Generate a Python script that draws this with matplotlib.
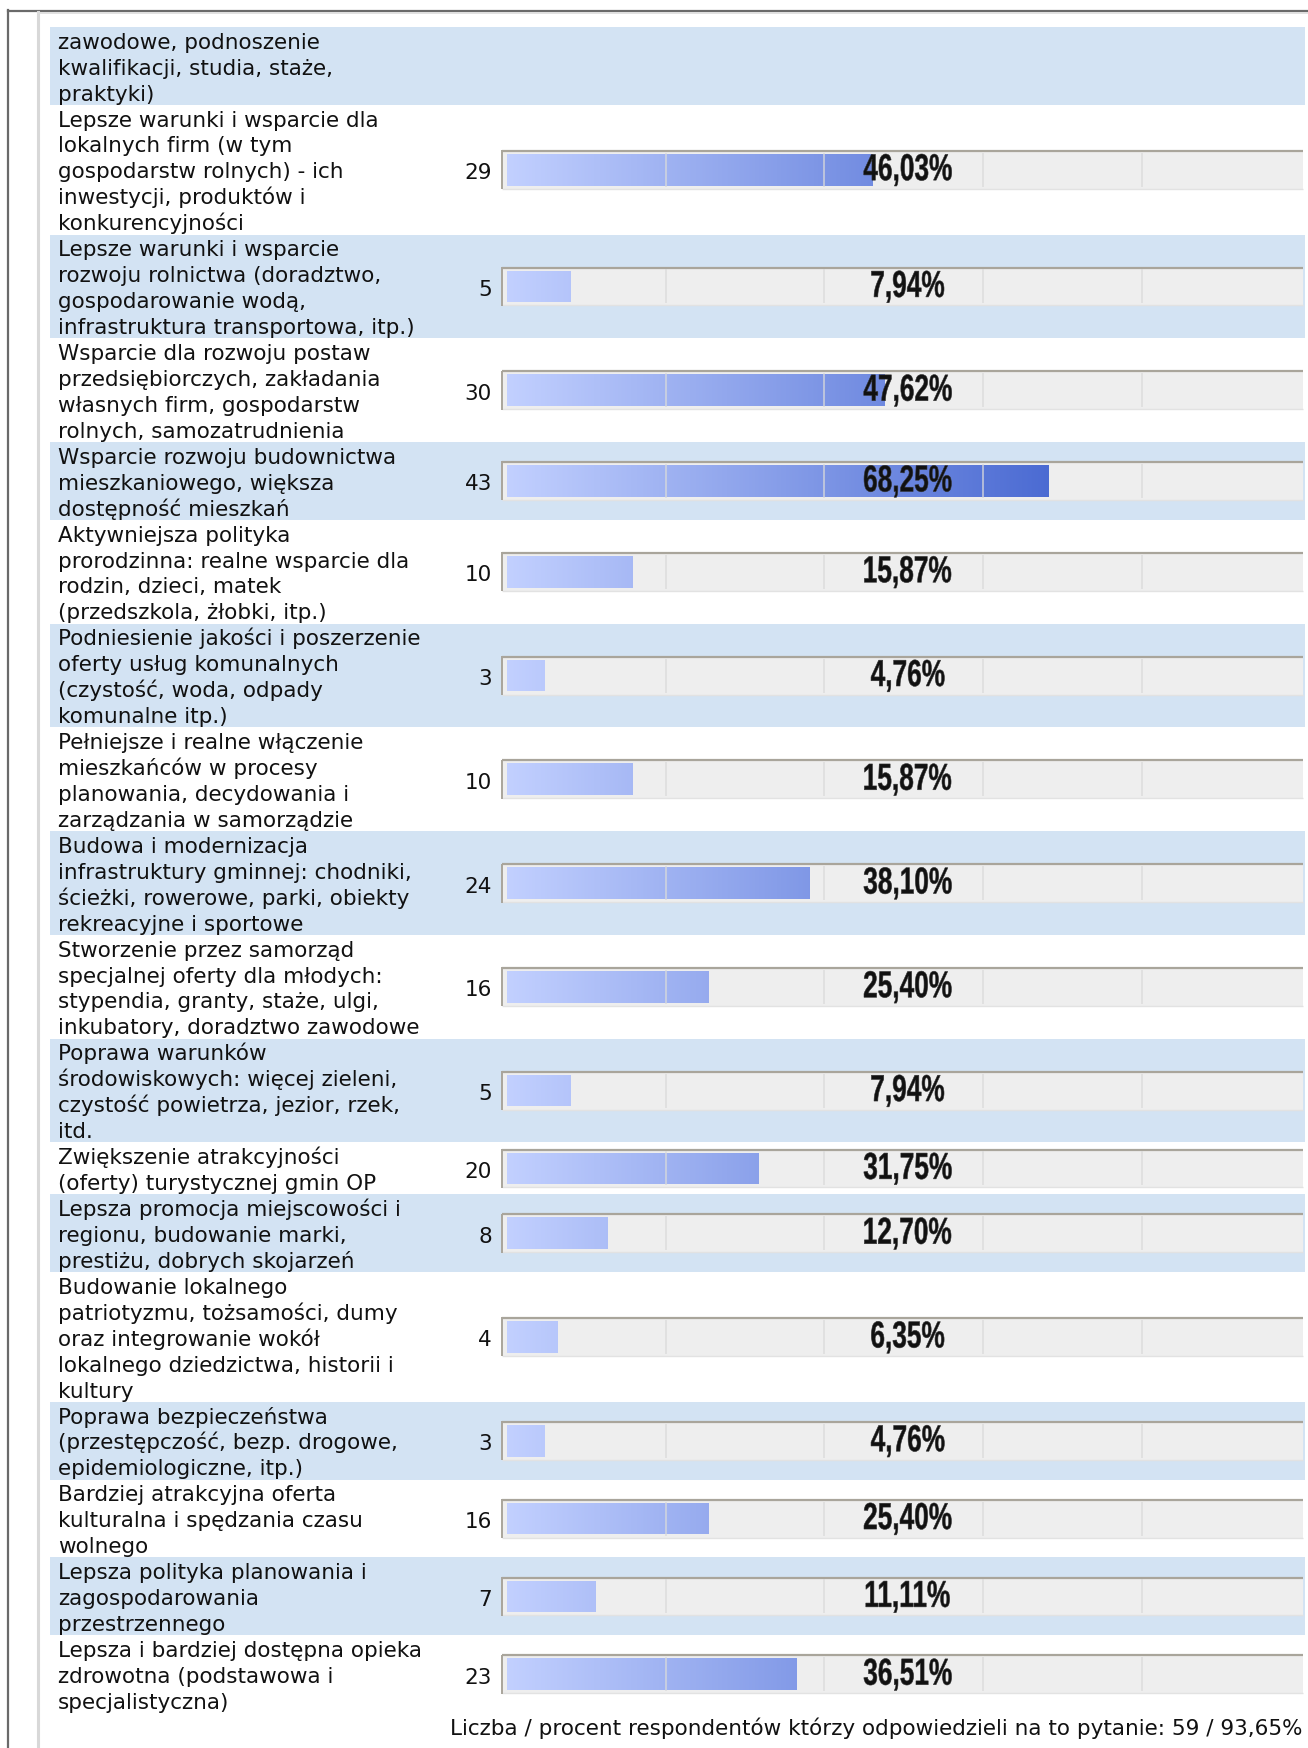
import numpy as np
import matplotlib
matplotlib.use('Agg')
import matplotlib.pyplot as plt
from matplotlib.patches import Rectangle, PathPatch
from matplotlib.textpath import TextPath
from matplotlib.font_manager import FontProperties
from matplotlib.transforms import Affine2D
from matplotlib.colors import LinearSegmentedColormap

# --- data ---
head = 'zawodowe, podnoszenie\nkwalifikacji, studia, staże,\npraktyki)'
labels = [
    'Lepsze warunki i wsparcie dla\nlokalnych firm (w tym\ngospodarstw rolnych) - ich\ninwestycji, produktów i\nkonkurencyjności',
    'Lepsze warunki i wsparcie\nrozwoju rolnictwa (doradztwo,\ngospodarowanie wodą,\ninfrastruktura transportowa, itp.)',
    'Wsparcie dla rozwoju postaw\nprzedsiębiorczych, zakładania\nwłasnych firm, gospodarstw\nrolnych, samozatrudnienia',
    'Wsparcie rozwoju budownictwa\nmieszkaniowego, większa\ndostępność mieszkań',
    'Aktywniejsza polityka\nprorodzinna: realne wsparcie dla\nrodzin, dzieci, matek\n(przedszkola, żłobki, itp.)',
    'Podniesienie jakości i poszerzenie\noferty usług komunalnych\n(czystość, woda, odpady\nkomunalne itp.)',
    'Pełniejsze i realne włączenie\nmieszkańców w procesy\nplanowania, decydowania i\nzarządzania w samorządzie',
    'Budowa i modernizacja\ninfrastruktury gminnej: chodniki,\nścieżki, rowerowe, parki, obiekty\nrekreacyjne i sportowe',
    'Stworzenie przez samorząd\nspecjalnej oferty dla młodych:\nstypendia, granty, staże, ulgi,\ninkubatory, doradztwo zawodowe',
    'Poprawa warunków\nśrodowiskowych: więcej zieleni,\nczystość powietrza, jezior, rzek,\nitd.',
    'Zwiększenie atrakcyjności\n(oferty) turystycznej gmin OP',
    'Lepsza promocja miejscowości i\nregionu, budowanie marki,\nprestiżu, dobrych skojarzeń',
    'Budowanie lokalnego\npatriotyzmu, tożsamości, dumy\noraz integrowanie wokół\nlokalnego dziedzictwa, historii i\nkultury',
    'Poprawa bezpieczeństwa\n(przestępczość, bezp. drogowe,\nepidemiologiczne, itp.)',
    'Bardziej atrakcyjna oferta\nkulturalna i spędzania czasu\nwolnego',
    'Lepsza polityka planowania i\nzagospodarowania\nprzestrzennego',
    'Lepsza i bardziej dostępna opieka\nzdrowotna (podstawowa i\nspecjalistyczna)',
]
counts = [29, 5, 30, 43, 10, 3, 10, 24, 16, 5, 20, 8, 4, 3, 16, 7, 23]
pcts = [46.03, 7.94, 47.62, 68.25, 15.87, 4.76, 15.87, 38.10, 25.40, 7.94,
        31.75, 12.70, 6.35, 4.76, 25.40, 11.11, 36.51]
footer = 'Liczba / procent respondentów którzy odpowiedzieli na to pytanie: 59 / 93,65%'

W, H = 1308, 1749
LH = 25.94          # line height in px
TOP = 28
X0, X100 = 507, 1300.5
FS = 15.5
BAND = '#d3e3f3'

fig = plt.figure(figsize=(W / 100, H / 100), dpi=100)
bg = fig.add_axes([0, 0, 1, 1])
bg.set_xlim(0, W)
bg.set_ylim(H, 0)
bg.axis('off')

ax = fig.add_axes([X0 / W, 0, (X100 - X0) / W, 1])
ax.axis('off')

# page frame
bg.plot([8, 8], [11, H], color='#6a6a6a', lw=1.6)
bg.plot([8, W], [11.5, 11.5], color='#6a6a6a', lw=1.6)
bg.plot([38, 38], [13, H], color='#d8d8d8', lw=2.2)
bg.plot([38, W], [13.8, 13.8], color='#dcdcdc', lw=1.2)

def draw_lines(txt, top):
    for j, line in enumerate(txt.split('\n')):
        bg.text(58, top + j * LH + 20.7, line, fontsize=FS, color='#111111',
                ha='left', va='baseline')

# partial first row
nh = len(head.split('\n'))
bg.add_patch(Rectangle((50, TOP), 1255, nh * LH, color=BAND, lw=0))
draw_lines(head, TOP)

nlines = [len(l.split('\n')) for l in labels]
tops = TOP + LH * (nh + np.concatenate([[0], np.cumsum(nlines)[:-1]]))
heights = LH * np.array(nlines)
centers = tops + heights / 2

for i, lab in enumerate(labels):
    if i % 2 == 1:
        bg.add_patch(Rectangle((50, tops[i]), 1255, heights[i], color=BAND, lw=0))
    draw_lines(lab, tops[i])
    bg.text(492, centers[i] + 8.5, str(counts[i]), fontsize=FS, color='#111111',
            ha='right', va='baseline')

# bar frames
fl, fr = -0.57, 100.3
ax.barh(centers, fr - fl, left=fl, height=39, color='#eeeeee', zorder=1, clip_on=False)
ax.hlines(centers - 18.8, fl, fr, color='#a9a59b', lw=1.6, zorder=1.5, clip_on=False)
ax.hlines(centers + 19, fl, fr, color='#e2e2e2', lw=1.0, zorder=1.5, clip_on=False)
ax.vlines([fl] * len(centers), centers - 19.5, centers + 19.5, color='#a9a59b', lw=1.4,
          zorder=1.5, clip_on=False)

# gradient bars
cmap = LinearSegmentedColormap.from_list('bar', ['#c2d0ff', '#143cbe'])
grad = np.linspace(0, 1, 512)[None, :]
bars = ax.barh(centers, pcts, height=31.7, color='#c2d0ff', zorder=2)
for b, yc in zip(bars, centers):
    im = ax.imshow(grad, cmap=cmap, extent=(0, 100, yc + 16, yc - 16), aspect='auto',
                   interpolation='bilinear', zorder=2.1)
    im.set_clip_path(b)

# grid marks every 20 %
for yc in centers:
    ax.vlines([20, 40, 60, 80], yc - 17, yc + 17, color='#dadada', lw=1.3, alpha=0.75,
              zorder=3)

ax.set_xlim(0, 100)
ax.set_ylim(H, 0)

# percent labels: narrow bold text (drawn in the bar axes so they sit on top)
fp = FontProperties(family='Liberation Sans', weight='bold')
xc = X0 + 0.505 * (X100 - X0)
for p, yc in zip(pcts, centers):
    s = ('%.2f%%' % p).replace('.', ',')
    tp = TextPath((0, 0), s, size=37.5, prop=fp)
    ext = tp.get_extents()
    tr = Affine2D().translate(-(ext.x0 + ext.x1) / 2, 0).scale(0.7, -1) \
        .translate(xc, yc + 10.5) + bg.transData
    ax.add_patch(PathPatch(tp, transform=tr, fc='#111111', ec='#333333', lw=0.4,
                           zorder=5, clip_on=False))

bg.text(1302, 1735, footer, fontsize=FS, color='#111111', ha='right', va='baseline')

fig.savefig('out.png', dpi=100)
